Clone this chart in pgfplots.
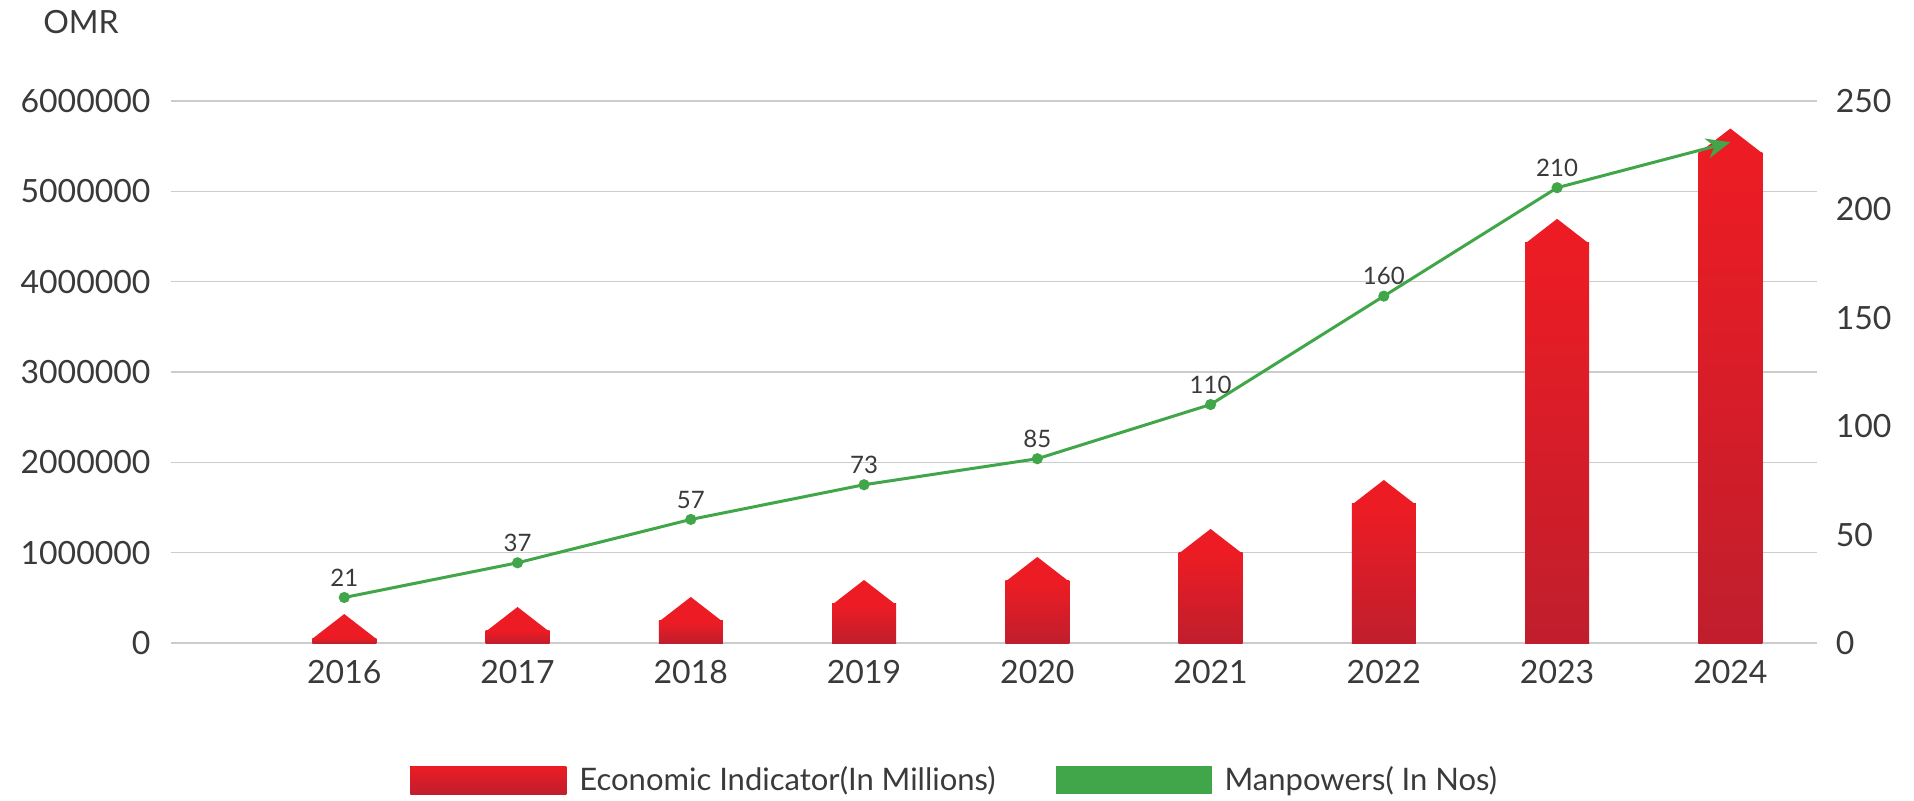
\documentclass[border=0pt]{standalone}
\usepackage{fontspec}
\setmainfont{Lato}
\usepackage{pgfplots}
\usepackage{pgfplotstable}
\pgfplotsset{compat=1.18}
\usetikzlibrary{arrows.meta}

\definecolor{barTop}{HTML}{ED1C24}
\definecolor{barBot}{HTML}{C01E2D}
\definecolor{lineGreen}{HTML}{40A649}
\definecolor{gridGray}{HTML}{CCCCCC}
\definecolor{txt}{HTML}{3A3A3A}

% idx: 0 = 2016 ... 8 = 2024
\pgfplotstableread{
idx econ    men
0   55000   21
1   133000  37
2   244000  57
3   432000  73
4   687000  85
5   997000  110
6   1539000 160
7   4430000 210
8   5430000 231
}\data

% roof on top of each bar
\pgfdeclareplotmark{house}{%
  \pgfpathmoveto{\pgfqpoint{-16pt}{-0.4pt}}%
  \pgfpathlineto{\pgfqpoint{0pt}{12pt}}%
  \pgfpathlineto{\pgfqpoint{16pt}{-0.4pt}}%
  \pgfpathclose
  \pgfusepathqfill}

\newcommand{\tickfont}{\fontsize{16}{19}\selectfont}

\begin{document}
\begin{tikzpicture}
\path[use as bounding box] (-85.5pt,-78.5pt) rectangle (871.5pt,321.5pt);

\begin{axis}[
    scale only axis, width=823pt, height=271pt,
    clip=false,
    xmin=-1, xmax=8.5,
    ymin=0, ymax=6000000,
    xtick={0,...,8},
    xticklabels={2016,2017,2018,2019,2020,2021,2022,2023,2024},
    ytick={0,1000000,...,6000000},
    scaled y ticks=false,
    /pgf/number format/fixed,
    /pgf/number format/precision=0,
    /pgf/number format/1000 sep={},
    /pgf/number format/assume math mode=true,
    axis x line*=bottom, axis y line*=left,
    axis line style={draw=none},
    major tick length=0pt,
    ymajorgrids,
    grid style={draw=gridGray, line width=0.75pt},
    tick label style={font=\tickfont, text=txt},
    yticklabel style={xshift=-6.7pt},
    xticklabel style={yshift=-5pt},
  ]
  % Economic Indicator: one bar per plot so each bar gets its own gradient
  \pgfplotsinvokeforeach{0,...,8}{
    \addplot[ybar, bar width=32pt, bar shift=0pt, draw=none,
             top color=barTop, bottom color=barBot,
             restrict x to domain=#1:#1]
      table[x=idx, y=econ] {\data};
  }
  \addplot[only marks, mark=house, color=barTop] table[x=idx, y=econ] {\data};

  \node[font=\tickfont, text=txt, xshift=-45pt, yshift=39.5pt]
    at (axis description cs:0,1) {OMR};
\end{axis}

\begin{axis}[
    scale only axis, width=823pt, height=271pt,
    xmin=-1, xmax=8.5,
    ymin=0, ymax=250,
    ytick={0,50,...,250},
    /pgf/number format/fixed,
    /pgf/number format/assume math mode=true,
    hide x axis,
    axis y line*=right,
    axis line style={draw=none},
    major tick length=0pt,
    tick label style={font=\tickfont, text=txt},
    yticklabel style={xshift=5.9pt},
    legend columns=2,
    legend cell align=left,
    legend style={at={(axis description cs:0.1452,-0.286)}, anchor=south west,
                  draw=none, fill=none, inner sep=0pt,
                  font=\fontsize{15.5}{18}\selectfont, text=txt,
                  /tikz/every odd column/.append style={column sep=4.5pt},
                  /tikz/every even column/.append style={column sep=28pt}},
  ]
  \addlegendimage{draw=none, legend image code/.code={%
      \fill[draw=none, top color=barTop, bottom color=barBot] (0pt,-7pt) rectangle (78pt,7pt);}}
  \addlegendimage{draw=none, legend image code/.code={%
      \fill[draw=none, lineGreen] (0pt,-7pt) rectangle (78pt,7pt);}}

  % Manpowers
  \addplot[lineGreen, line width=1.5pt, -{Stealth[length=12pt,width=10pt]},
           mark=*, mark size=2pt, mark indices={1,...,8},
           mark options={solid, fill=lineGreen},
           nodes near coords,
           nodes near coords style={font=\fontsize{12}{14}\selectfont, text=txt,
                                    anchor=south, yshift=1.5pt}]
    table[x=idx, y=men] {\data};

  \legend{Economic Indicator(In Millions), Manpowers( In Nos)}
\end{axis}
\end{tikzpicture}
\end{document}
